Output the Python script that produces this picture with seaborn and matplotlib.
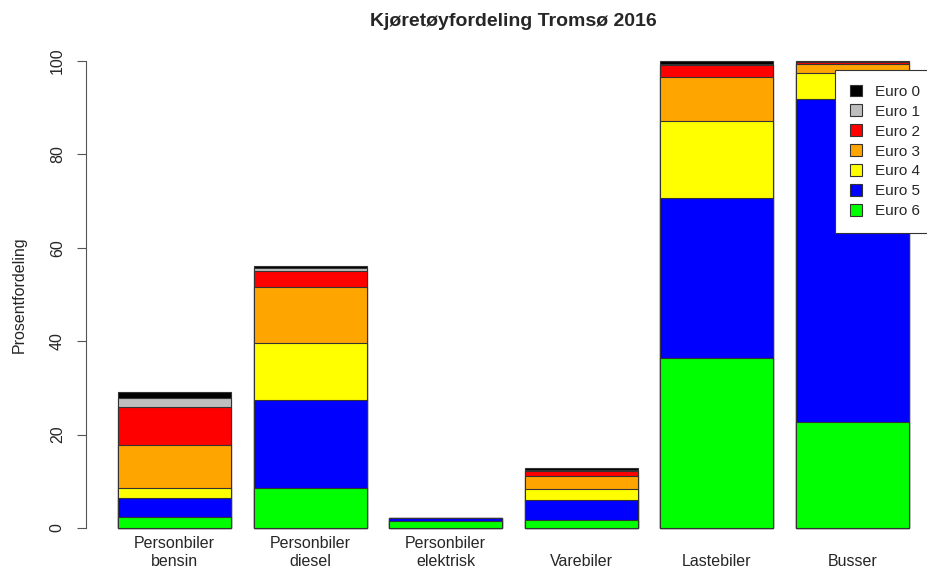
import numpy as np
import pandas as pd
import matplotlib
matplotlib.use("Agg")
import matplotlib.pyplot as plt
from matplotlib.patches import Patch
import seaborn as sns

# Data (percent of vehicles per Euro class)
categories = ["Personbiler\nbensin", "Personbiler\ndiesel", "Personbiler\nelektrisk",
              "\nVarebiler", "\nLastebiler", "\nBusser"]
euro_classes = ["Euro 0", "Euro 1", "Euro 2", "Euro 3", "Euro 4", "Euro 5", "Euro 6"]
euro0 = [1.3, 0.5, 0.05, 0.5, 0.6, 0.2]
euro1 = [1.9, 0.5, 0.0, 0.1, 0.3, 0.1]
euro2 = [8.1, 3.4, 0.0, 1.15, 2.5, 0.3]
euro3 = [9.3, 12.1, 0.0, 2.85, 9.4, 1.9]
euro4 = [2.1, 12.2, 0.0, 2.3, 16.5, 5.6]
euro5 = [4.1, 18.8, 0.55, 4.3, 34.3, 69.2]
euro6 = [2.3, 8.6, 1.5, 1.7, 36.4, 22.7]
colors = ["black", "#BEBEBE", "red", "orange", "yellow", "blue", "#00FF00"]

df = pd.DataFrame({"kategori": categories, "Euro 0": euro0, "Euro 1": euro1,
                   "Euro 2": euro2, "Euro 3": euro3, "Euro 4": euro4,
                   "Euro 5": euro5, "Euro 6": euro6})

sns.set_style("white")
plt.rcParams["font.family"] = ["Liberation Sans", "DejaVu Sans"]

fig = plt.figure(figsize=(9.28, 5.69), dpi=100)
ax = fig.add_axes([0.0931, 0.0392, 0.9205, 0.8865])

# stacked bars: draw cumulative totals from the top class down
stack_order = euro_classes[::-1]  # Euro 6 at bottom
for i in range(len(stack_order) - 1, -1, -1):
    cols = stack_order[:i + 1]
    heights = df[cols].sum(axis=1)
    color = colors[euro_classes.index(stack_order[i])]
    sns.barplot(x=df["kategori"], y=heights, color=color, width=1 / 1.2,
                edgecolor="#333333", linewidth=0.8, saturation=1, ax=ax)

ax.set_xlim(-0.65, 5.65)
ax.set_ylim(-4, 104)
for s in ["top", "right", "bottom"]:
    ax.spines[s].set_visible(False)
ax.spines["left"].set_bounds(0, 100)
ax.spines["left"].set_color("#555555")
ax.set_yticks([0, 20, 40, 60, 80, 100])
ax.tick_params(axis="y", direction="out", length=6.5, width=0.8, color="#555555",
               labelsize=11.5, pad=9, left=True, labelrotation=90)
for lab in ax.get_yticklabels():
    lab.set_va("center")
ax.tick_params(axis="x", length=0, labelsize=11.5, pad=-7.5)
for lab in ax.get_xticklabels():
    lab.set_linespacing(1.25)
ax.set_xlabel("")
ax.set_ylabel("Prosentfordeling", fontsize=11.5, labelpad=17)
ax.set_title("Kjøretøyfordeling Tromsø 2016", fontsize=14, fontweight="bold", pad=12)

handles = [Patch(facecolor=c, edgecolor="#333333", linewidth=0.8) for c in colors]
leg = fig.legend(handles, euro_classes, loc="upper left",
                 bbox_to_anchor=(835 / 928, 1 - 70 / 569), fontsize=11,
                 handlelength=0.8, handleheight=0.8, handletextpad=0.9,
                 labelspacing=0.38, borderpad=0.95, borderaxespad=0,
                 fancybox=False, framealpha=1)
leg.get_frame().set_edgecolor("#333333")
leg.get_frame().set_linewidth(0.8)

fig.savefig("out.png", dpi=100)
